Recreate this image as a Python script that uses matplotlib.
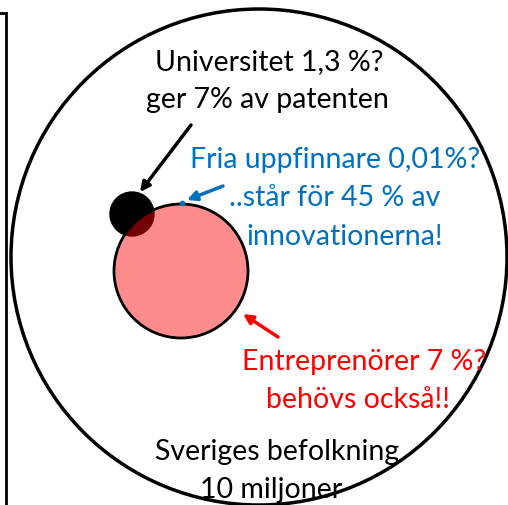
import matplotlib.pyplot as plt
from matplotlib.patches import Circle

W, H = 508, 506

# circles: (x, y, r) in pixel coords of the image
big_circle   = (259, 258, 248)
univ_circle  = (132, 215, 22)
entre_circle = (181, 272, 67)

# texts: (x, y, text, colour)
labels = [
    (269, 62,  "Universitet 1,3 %?",      "black"),
    (267, 100, "ger 7% av patenten",      "black"),
    (335, 160, "Fria uppfinnare 0,01%?",  "#0070C0"),
    (335, 198, "..står för 45 % av",      "#0070C0"),
    (345, 237, "innovationerna!",         "#0070C0"),
    (364, 362, "Entreprenörer 7 %?",      "#FF0000"),
    (358, 400, "behövs också!!",          "#FF0000"),
    (277, 452, "Sveriges befolkning",     "black"),
    (271, 490, "10 miljoner",             "black"),
]

# arrows: (tail, head, colour)
arrows = [
    ((191, 126), (140, 193), "black"),
    ((223, 187), (187, 201), "#0070C0"),
    ((278, 338), (243, 315), "#FF0000"),
]

plt.rcParams['font.family'] = ['Lato', 'DejaVu Sans']

fig = plt.figure(figsize=(W / 100, H / 100), dpi=100)
ax = fig.add_axes([0, 0, 1, 1])
ax.set_xlim(0, W)
ax.set_ylim(H, 0)
ax.set_aspect("equal")
ax.axis("off")

# bracket at the left edge
ax.plot([0, 6, 6], [14, 14, H + 5], color="black", lw=2, solid_joinstyle="miter")

x, y, r = big_circle
ax.add_patch(Circle((x, y), r, facecolor="none", edgecolor="black", lw=2.5))

x, y, r = univ_circle
ax.add_patch(Circle((x, y), r, facecolor="black", edgecolor="black", lw=1))

x, y, r = entre_circle
ax.add_patch(Circle((x, y), r, facecolor=(1, 0, 0, 0.45), edgecolor="black", lw=2))

# small blue dot where the arrow points
ax.plot([182], [204], "o", color="#0070C0", ms=3)

for (tx, ty), (hx, hy), c in arrows:
    ax.annotate("", xy=(hx, hy), xytext=(tx, ty),
                arrowprops=dict(arrowstyle="-|>", color=c, lw=2.5,
                                mutation_scale=14, shrinkA=0, shrinkB=0))

for tx, ty, s, c in labels:
    ax.text(tx, ty, s, color=c, fontsize=20.5, ha="center", va="center")

plt.savefig("out.png", dpi=100)
